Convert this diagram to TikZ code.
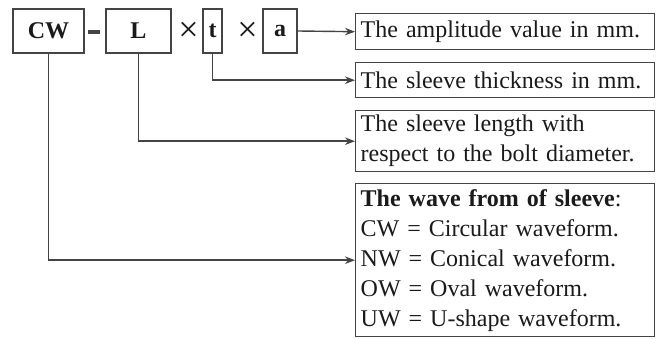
\documentclass[tikz,border=0pt]{standalone}
\usepackage{fontspec}
\setmainfont{Liberation Serif}
\usetikzlibrary{arrows.meta}
\definecolor{ink}{HTML}{1A1A1A}
\definecolor{rule}{HTML}{444444}
\begin{document}
\begin{tikzpicture}[x=1pt,y=-1pt,
  codebox/.style={draw=rule, line width=1.4pt, minimum height=44pt, inner sep=0pt,
    text=ink, font=\fontsize{24}{26}\selectfont\bfseries},
  descbox/.style={draw=rule, line width=1.4pt, anchor=north west, minimum width=299pt,
    text width=289pt, align=left, inner xsep=5pt, inner ysep=0pt, text=ink,
    font=\fontsize{24}{30}\selectfont},
  times/.style={text=ink, font=\fontsize{36}{36}\selectfont, inner sep=0pt},
  link/.style={draw=rule, line width=1.4pt},
  arr/.style={link, -{Stealth[length=10pt,width=7.5pt]}}]
\useasboundingbox (0,0) rectangle (659,339);

% code parts
\node[codebox, minimum width=71pt] (cw) at (48.5,31) {CW};
\node[fill=rule, minimum width=12pt, minimum height=3.5pt, inner sep=0pt] (dash) at (94,32) {};
\node[codebox, minimum width=65pt] (l) at (138.5,31) {L};
\node[times] (x1) at (188.5,32) {×};
\node[codebox, minimum width=19pt] (t) at (212.5,31) {t};
\node[times] (x2) at (247.5,32) {×};
\node[codebox, minimum width=34pt] (a) at (280,31) {a};

% descriptions
\node[descbox, minimum height=36pt] (d1) at (355,13) {The amplitude value in mm.};
\node[descbox, minimum height=35pt] (d2) at (355,62) {The sleeve thickness in mm.};
\node[descbox, minimum height=61pt] (d3) at (355,110) {The sleeve length with\\respect to the bolt diameter.};
\node[descbox, minimum height=153pt] (d4) at (355,183) {\textbf{The wave from of sleeve}:\\CW = Circular waveform.\\NW = Conical waveform.\\OW = Oval waveform.\\UW = U-shape waveform.};

% connectors
\draw[arr] (a.east) -- (d1.west);
\draw[arr] (t.south) |- (d2.west);
\draw[arr] (l.south) |- (d3.west);
\draw[arr] (cw.south) |- (d4.west);
\end{tikzpicture}
\end{document}
